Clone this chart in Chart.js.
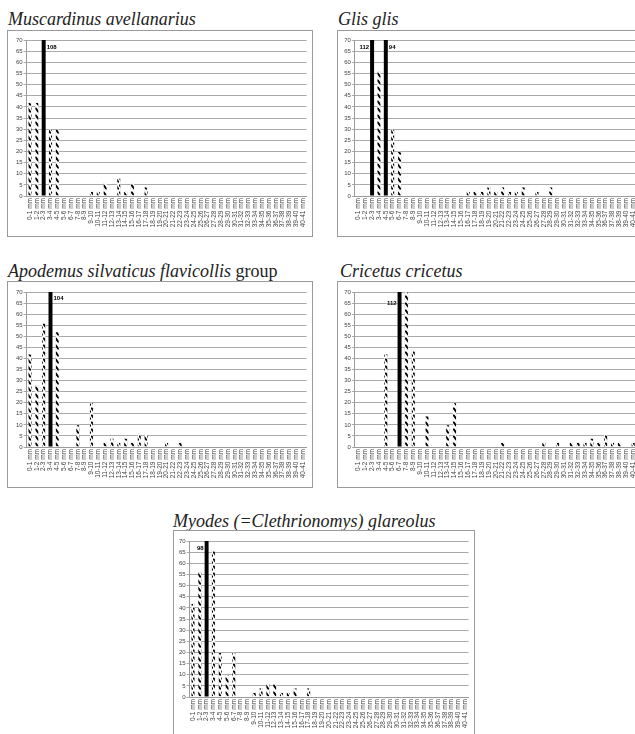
<!DOCTYPE html>
<html lang="en">
<head>
<meta charset="UTF-8">
<title>Size class distributions</title>
<script src="https://cdn.jsdelivr.net/npm/chart.js"></script>
<style>
html,body{margin:0;padding:0;background:#fff;overflow:hidden;width:635px;height:734px;position:relative}
.ttl{position:absolute;font-family:"Liberation Serif","Times New Roman",serif;font-style:italic;font-size:18px;line-height:18px;white-space:nowrap;color:#222}
.ttl span{font-style:normal}
canvas{position:absolute}
</style>
</head>
<body>

<!-- Titles -->
<div class="ttl" style="left:8px;top:10px">Muscardinus avellanarius</div>
<div class="ttl" style="left:338px;top:10px">Glis glis</div>
<div class="ttl" style="left:8px;top:262px">Apodemus silvaticus flavicollis <span>group</span></div>
<div class="ttl" style="left:340px;top:262px">Cricetus cricetus</div>
<div class="ttl" style="left:173px;top:512px">Myodes (=Clethrionomys) glareolus</div>

<canvas id="c1"></canvas>
<canvas id="c2"></canvas>
<canvas id="c3"></canvas>
<canvas id="c4"></canvas>
<canvas id="c5"></canvas>

<script>
const YMAX = 70;

const sizeClasses = [
"0-1 mm","1-2 mm","2-3 mm","3-4 mm","4-5 mm","5-6 mm","6-7 mm","7-8 mm","8-9 mm","9-10 mm",
"10-11 mm","11-12 mm","12-13 mm","13-14 mm","14-15 mm","15-16 mm","16-17 mm","17-18 mm","18-19 mm","19-20 mm",
"20-21 mm","21-22 mm","22-23 mm","23-24 mm","24-25 mm","25-26 mm","26-27 mm","27-28 mm","28-29 mm","29-30 mm",
"30-31 mm","31-32 mm","32-33 mm","33-34 mm","34-35 mm","35-36 mm","36-37 mm","37-38 mm","38-39 mm","39-40 mm",
"40-41 mm"
];

const yTicks = [0,5,10,15,20,25,30,35,40,45,50,55,60,65,70];

const muscardinus = [42,42,108,30,30,0,0,0,0,2, 2,6,0,8,2,6,0,4,0,0, 0,0,0,0,0,0,0,0,0,0, 0,0,0,0,0,0,0,0,0,0, 0];
const glis        = [0,0,112,56,94,30,20,0,0,0, 0,0,0,0,0,0,2,2,2,4, 2,4,2,2,4,0,2,0,4,0, 0,0,0,0,0,0,0,0,0,0, 0];
const apodemus    = [42,28,56,104,52,0,0,10,0,20, 0,2,4,2,4,2,6,6,0,0, 2,0,2,0,0,0,0,0,0,0, 0,0,0,0,0,0,0,0,0,0, 0];
const cricetus    = [0,0,0,0,42,0,112,70,44,0, 14,0,0,10,20,0,0,0,0,0, 0,2,0,0,0,0,0,2,0,2, 0,2,2,2,4,2,6,2,2,0, 2];
const myodes      = [42,56,98,66,20,10,20,0,0,2, 4,6,6,2,2,4,0,4,0,0, 0,0,0,0,0,0,0,0,0,0, 0,0,0,0,0,0,0,0,0,0, 0];

// page geometry: box = frame [x,y,w,h], plot = [left,top,width,height]
const panels = [
  {id:"c1", data:muscardinus, box:[7,30,306,207],   plot:[26.6,40,282,156],  side:{2:"right"}, ly:4},
  {id:"c2", data:glis,        box:[337,30,306,207], plot:[354.9,40,282,156], side:{2:"left",4:"right"}, ly:4},
  {id:"c3", data:apodemus,    box:[7,281,306,207],  plot:[26.6,292,282,155], side:{3:"right"}, ly:3},
  {id:"c4", data:cricetus,    box:[337,281,306,207],plot:[354.9,292,282,155],side:{6:"left"}, ly:8},
  {id:"c5", data:myodes,      box:[173,530,302,210],plot:[189.6,541,282,156],side:{2:"left"}, ly:4}
];

const Y_AXIS_W = 14;

function hatch(){
  const c = document.createElement("canvas");
  c.width = 4; c.height = 7;
  const g = c.getContext("2d");
  g.fillStyle = "#fff"; g.fillRect(0,0,4,7);
  g.strokeStyle = "#000"; g.lineWidth = 1.9;
  g.lineCap = "round";
  g.beginPath(); g.moveTo(0.8,1.4); g.lineTo(3.2,4.8); g.stroke();
  return g.createPattern(c,"repeat");
}

// frame + numbers for bars cut off at the top
const framePlugin = {
  id:"frame",
  beforeDraw(chart){
    const ctx = chart.ctx;
    ctx.save();
    ctx.fillStyle = "#fff";
    ctx.fillRect(0,0,chart.width,chart.height);
    ctx.strokeStyle = "#9a9a9a"; ctx.lineWidth = 1;
    ctx.strokeRect(0.5,0.5,chart.width-1,chart.height-1);
    ctx.restore();
  },
  afterDatasetsDraw(chart, args, opts){
    const ctx = chart.ctx, meta = chart.getDatasetMeta(0);
    const vals = chart.data.datasets[0].data;
    ctx.save();
    ctx.font = 'bold 6px "Liberation Sans"';
    ctx.fillStyle = "#000";
    ctx.textBaseline = "top";
    vals.forEach((v,i)=>{
      if(v <= YMAX) return;
      const bar = meta.data[i];
      const s = opts.side[i] || "right";
      ctx.textAlign = s == "left" ? "right" : "left";
      const x = s == "left" ? bar.x - bar.width/2 - 1 : bar.x + bar.width/2 + 1;
      ctx.fillText(String(v), x, chart.chartArea.top + opts.ly);
    });
    ctx.restore();
  }
};

const pattern = hatch();

panels.forEach(p=>{
  const [bx,by,bw,bh] = p.box;
  const [px,py,pw,ph] = p.plot;
  const cv = document.getElementById(p.id);
  cv.width = bw; cv.height = bh;
  cv.style.left = bx+"px"; cv.style.top = by+"px";
  cv.style.width = bw+"px"; cv.style.height = bh+"px";

  const padLeft = px - bx - Y_AXIS_W;
  const padTop = py - by;
  const padRight = bw - (px - bx + pw);
  const xAxisH = bh - (py - by + ph);

  new Chart(cv,{
    type:"bar",
    data:{
      labels:sizeClasses,
      datasets:[{
        data:p.data,
        backgroundColor:p.data.map(v=> v > YMAX ? "#000" : pattern),
        borderColor:"#cfcfcf",
        borderWidth:p.data.map(v=> v > YMAX ? 0 : 0.5),
        barPercentage:0.58,
        categoryPercentage:1
      }]
    },
    plugins:[framePlugin],
    options:{
      responsive:false,
      animation:false,
      devicePixelRatio:1,
      layout:{padding:{left:padLeft,top:padTop,right:padRight,bottom:0}},
      plugins:{
        legend:{display:false},
        tooltip:{enabled:false},
        frame:{side:p.side, ly:p.ly}
      },
      scales:{
        x:{
          offset:true,
          grid:{display:false, drawTicks:false},
          border:{display:true,color:"#9a9a9a",width:1},
          ticks:{
            autoSkip:false, minRotation:90, maxRotation:90, padding:2,
            color:"#444", font:{family:"Liberation Sans", size:6.5}
          },
          afterFit(scale){ scale.height = xAxisH; }
        },
        y:{
          min:0, max:YMAX,
          afterBuildTicks(scale){ scale.ticks = yTicks.map(v=>({value:v})); },
          grid:{color:"#aaaaaa", lineWidth:1, tickLength:3},
          border:{display:true,color:"#9a9a9a",width:1},
          ticks:{padding:1, color:"#444", font:{family:"Liberation Sans", size:6}},
          afterFit(scale){ scale.width = Y_AXIS_W; }
        }
      }
    }
  });
});
</script>

</body>
</html>
